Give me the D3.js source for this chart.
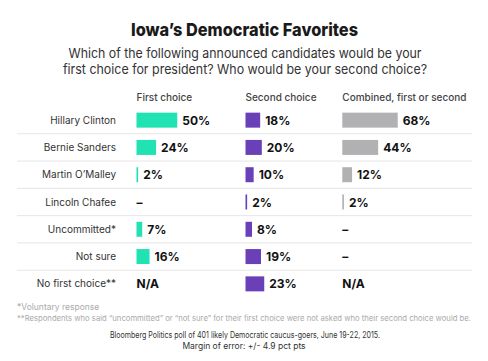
<!DOCTYPE html>
<html><head><meta charset="utf-8">
<script src="https://cdn.jsdelivr.net/npm/d3@7"></script>
<style>
body{margin:0;background:#fff;}
svg{display:block;font-family:Inter,"Helvetica Neue",Arial,sans-serif;}
</style></head>
<body>
<svg id="c" width="488" height="361"></svg>
<script>
const candidates = ["Hillary Clinton","Bernie Sanders","Martin O\u2019Malley","Lincoln Chafee","Uncommitted*","Not sure","No first choice**"];
const columns = ["First choice","Second choice","Combined, first or second"];
// numbers are percentages; "-" means a dash, "N/A" means not applicable
const firstChoice  = [50, 24, 2, "-", 7, 16, "N/A"];
const secondChoice = [18, 20, 10, 2, 8, 19, 23];
const combined     = [68, 44, 12, 2, "-", "-", "N/A"];
const footnotes = ["*Voluntary response",
  "**Respondents who said \u201cuncommitted\u201d or \u201cnot sure\u201d for their first choice were not asked who their second choice would be."];
const source = ["Bloomberg Politics poll of 401 likely Democratic caucus-goers, June 19-22, 2015.",
  "Margin of error: +/- 4.9 pct pts"];

const series = [firstChoice, secondChoice, combined];
const colors = ["#20e2b3", "#6940b8", "#b1b1b3"];

const svg = d3.select("#c");

svg.append("text").attr("x",244.5).attr("y",36).attr("text-anchor","middle")
  .attr("font-size",18).attr("font-weight",800).attr("fill","#1a1a1a")
  .attr("textLength",227).attr("lengthAdjust","spacingAndGlyphs")
  .text("Iowa\u2019s Democratic Favorites");
const sub = ["Which of the following announced candidates would be your","first choice for president? Who would be your second choice?"];
const subW = [353, 364];
sub.forEach((s,i)=>svg.append("text").attr("x",245).attr("y",57.5+i*16.7).attr("text-anchor","middle")
  .attr("font-size",13.5).attr("fill","#333").attr("textLength",subW[i]).attr("lengthAdjust","spacingAndGlyphs").text(s));

const y = d3.scaleBand().domain(candidates).range([106.5, 297.5]).paddingInner(0);
const colX = d3.scaleOrdinal().domain(columns).range([136.5, 245.5, 342.3]);
const x = d3.scaleLinear().domain([0,100]).range([0,81.5]);
const barH = 15;

// headers
columns.forEach(c=>svg.append("text").attr("x",colX(c)).attr("y",101).attr("font-size",10)
  .attr("font-weight",500).attr("fill","#444").text(c));

// separators
candidates.slice(1).forEach(c=>svg.append("line").attr("x1",17).attr("x2",472)
  .attr("y1",y(c)).attr("y2",y(c)).attr("stroke","#e6e6e6").attr("stroke-width",1));

// row labels
candidates.forEach(c=>svg.append("text").attr("x",116).attr("y",y(c)+y.bandwidth()/2+3.5)
  .attr("text-anchor","end").attr("font-size",10).attr("fill","#333").text(c));

series.forEach((vals,si)=>{
  const x0 = colX(columns[si]);
  const g = svg.append("g");
  vals.forEach((v,ri)=>{
    const cy = y(candidates[ri]) + y.bandwidth()/2;
    if (typeof v === "number") {
      const w = Math.max(x(v), 1.6);
      g.append("rect").attr("x",x0).attr("y",cy-barH/2).attr("width",w).attr("height",barH).attr("fill",colors[si]);
      g.append("text").attr("x",x0+w+5).attr("y",cy+4.5).attr("font-size",12).attr("font-weight",700)
        .attr("fill","#111").text(v+"%");
    } else if (v === "-") {
      g.append("text").attr("x",x0).attr("y",cy+4.5).attr("font-size",12).attr("font-weight",700)
        .attr("fill","#111").text("\u2013");
    } else {
      g.append("text").attr("x",x0).attr("y",cy+4.5).attr("font-size",12).attr("font-weight",700)
        .attr("fill","#111").text(v);
    }
  });
});

svg.append("text").attr("x",17).attr("y",310).attr("font-size",8.5).attr("fill","#aaa").text(footnotes[0]);
svg.append("text").attr("x",17).attr("y",320.5).attr("font-size",7.8).attr("fill","#aaa")
  .attr("textLength",454).attr("lengthAdjust","spacingAndGlyphs").text(footnotes[1]);
svg.append("text").attr("x",245).attr("y",337.5).attr("text-anchor","middle").attr("font-size",8.5).attr("fill","#333")
  .attr("textLength",270).attr("lengthAdjust","spacingAndGlyphs").text(source[0]);
svg.append("text").attr("x",244).attr("y",349).attr("text-anchor","middle").attr("font-size",8.5).attr("fill","#333").text(source[1]);
</script>
</body></html>
